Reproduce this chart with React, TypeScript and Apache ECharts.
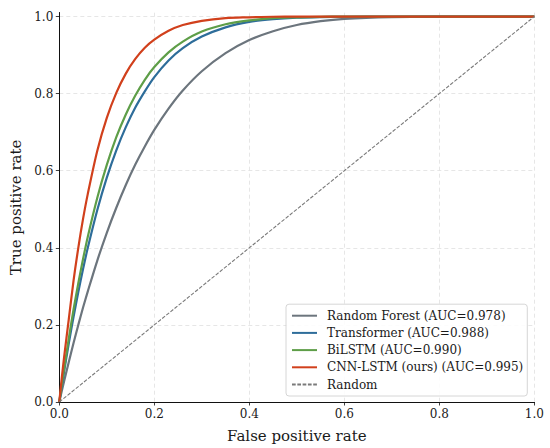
import React, { useEffect, useRef } from "react";
import * as echarts from "echarts";

const fpr = [0, 0.005, 0.01, 0.02, 0.03, 0.04, 0.05, 0.06, 0.08, 0.1, 0.12, 0.14, 0.16, 0.18, 0.2, 0.23, 0.26, 0.3, 0.35, 0.4, 0.45, 0.5, 0.55, 0.6, 0.7, 0.8, 0.9, 1.0];
const tprRandomForest = [0, 0.027, 0.053, 0.104, 0.153, 0.2, 0.245, 0.287, 0.367, 0.439, 0.504, 0.563, 0.616, 0.663, 0.706, 0.761, 0.808, 0.858, 0.905, 0.939, 0.962, 0.978, 0.988, 0.994, 0.9987, 0.9999, 1, 1];
const tprTransformer = [0, 0.04, 0.078, 0.152, 0.221, 0.285, 0.345, 0.4, 0.498, 0.582, 0.653, 0.713, 0.764, 0.806, 0.843, 0.886, 0.918, 0.948, 0.972, 0.986, 0.993, 0.997, 0.9987, 0.9995, 1, 1, 1, 1];
const tprBiLSTM = [0, 0.045, 0.085, 0.165, 0.24, 0.308, 0.371, 0.429, 0.53, 0.615, 0.687, 0.746, 0.795, 0.836, 0.869, 0.907, 0.935, 0.961, 0.98, 0.99, 0.996, 0.998, 0.9993, 0.9998, 1, 1, 1, 1];
const tprCnnLstm = [0, 0.06, 0.115, 0.215, 0.315, 0.4, 0.475, 0.54, 0.652, 0.737, 0.802, 0.852, 0.89, 0.919, 0.94, 0.963, 0.978, 0.989, 0.996, 0.998, 0.9995, 1, 1, 1, 1, 1, 1, 1];
const randomLine = [[0, 0], [1, 1]];

const seriesNames = [
  "Random Forest (AUC=0.978)",
  "Transformer (AUC=0.988)",
  "BiLSTM (AUC=0.990)",
  "CNN-LSTM (ours) (AUC=0.995)",
  "Random",
];
const seriesColors = ["#6c757d", "#2e6d9a", "#5e9e48", "#d1401c", "#7a7a7a"];
const tickValues = [0, 0.2, 0.4, 0.6, 0.8, 1.0];

const FONT = "DejaVu Serif";

export default function App() {
  const ref = useRef<HTMLDivElement>(null);
  useEffect(() => {
    document.body.style.margin = "0";
    const chart = echarts.init(ref.current!, null, { renderer: "svg" });
    const curves = [tprRandomForest, tprTransformer, tprBiLSTM, tprCnnLstm];
    const series: any[] = curves.map((tpr, i) => ({
      name: seriesNames[i],
      type: "line",
      data: fpr.map((x, j) => [x, tpr[j]]),
      smooth: 0.3,
      symbol: "none",
      lineStyle: { color: seriesColors[i], width: 2.2 },
      itemStyle: { color: seriesColors[i] },
      z: 3 + i,
    }));
    series.push({
      name: seriesNames[4],
      type: "line",
      data: randomLine,
      symbol: "none",
      lineStyle: { color: seriesColors[4], width: 1.1, type: [3.7, 1.6] },
      itemStyle: { color: seriesColors[4] },
      z: 8,
    });

    const labelStyle = { fontFamily: FONT, fontSize: 12, color: "#1a1a1a" };
    const splitLine = { show: true, lineStyle: { color: "#e0e0e0", width: 0.8, type: [4, 3] } };
    const axisLine = { show: true, lineStyle: { color: "#111", width: 1 } };

    chart.setOption({
      animation: false,
      backgroundColor: "#ffffff",
      grid: { left: 59.3, right: 15.7, top: 12.7, bottom: 45.7, containLabel: false },
      legend: {
        orient: "vertical",
        right: 22.7,
        bottom: 52,
        padding: [5, 4, 5, 5],
        itemWidth: 25,
        itemHeight: 12,
        itemGap: 4.2,
        itemStyle: { opacity: 0 },
        backgroundColor: "rgba(255,255,255,0.85)",
        borderColor: "#cccccc",
        borderWidth: 0.8,
        borderRadius: 3,
        textStyle: { fontFamily: FONT, fontSize: 12, color: "#1a1a1a", lineHeight: 13, padding: [0, 0, 0, 5] },
        data: seriesNames,
      },
      xAxis: [
        {
          type: "value",
          min: 0,
          max: 1,
          interval: 0.2,
          name: "False positive rate",
          nameLocation: "middle",
          nameGap: 26,
          nameTextStyle: { fontFamily: FONT, fontSize: 15, color: "#1a1a1a" },
          axisLine,
          axisTick: { show: true, inside: false, length: 3.5, lineStyle: { color: "#111", width: 0.8 } },
          axisLabel: { ...labelStyle, margin: 6, formatter: (v: number) => v.toFixed(1) },
          splitLine,
        },
        {
          type: "value",
          position: "top",
          min: 0,
          max: 1,
          axisLine,
          axisTick: { show: false },
          axisLabel: { show: false },
          splitLine: { show: false },
        },
      ],
      yAxis: [
        {
          type: "value",
          min: 0,
          max: 1.01,
          name: "True positive rate",
          nameLocation: "middle",
          nameGap: 34,
          nameTextStyle: { fontFamily: FONT, fontSize: 15, color: "#1a1a1a" },
          axisLine,
          axisTick: { show: true, inside: false, length: 3.5, customValues: tickValues, lineStyle: { color: "#111", width: 0.8 } },
          axisLabel: { ...labelStyle, margin: 6, customValues: tickValues, formatter: (v: number) => v.toFixed(1) },
          splitLine,
        },
        {
          type: "value",
          position: "right",
          min: 0,
          max: 1.01,
          axisLine,
          axisTick: { show: false },
          axisLabel: { show: false },
          splitLine: { show: false },
        },
      ],
      series,
    });
    return () => chart.dispose();
  }, []);
  return <div ref={ref} style={{ width: 550, height: 448 }} />;
}
